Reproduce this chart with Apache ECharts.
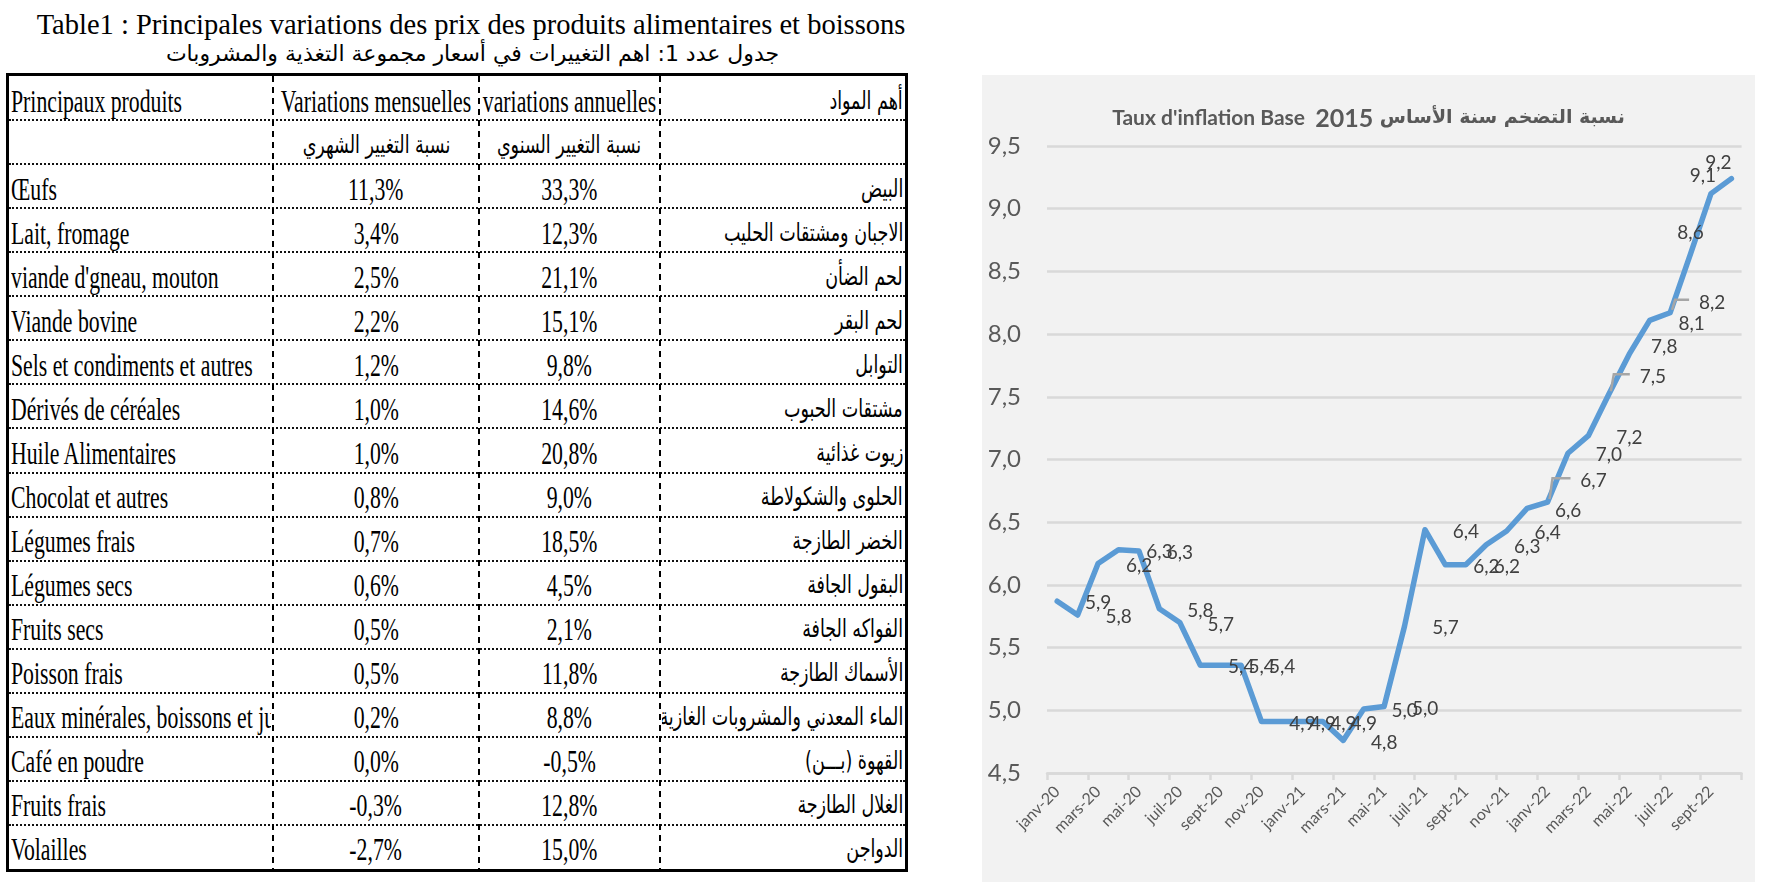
<!DOCTYPE html>
<html><head><meta charset="utf-8">
<script src="https://cdn.jsdelivr.net/npm/echarts@6/dist/echarts.min.js"></script>
<style>
html,body{margin:0;padding:0;background:#fff;width:1768px;height:889px;overflow:hidden;}
#t1{position:absolute;left:0;top:7px;width:942px;text-align:center;font:28.5px 'Liberation Serif';color:#000;line-height:36px;white-space:nowrap}
#t2{position:absolute;left:0;top:38px;width:945px;text-align:center;font:22px 'DejaVu Sans';direction:rtl;line-height:32px;white-space:nowrap}
#tbl{position:absolute;left:6px;top:73px;width:902px;height:799px;border:3px solid #000;box-sizing:border-box;}
.sep{position:absolute;left:0;width:896px;height:0;border-top:2px dotted #111;}
.vsep{position:absolute;top:0;width:2px;height:793px;background:repeating-linear-gradient(to bottom,#000 0 6px,transparent 6px 11px);}
.cell{position:absolute;overflow:hidden;white-space:nowrap;color:#000;display:flex;align-items:center;box-sizing:border-box;padding-top:5px;}
.lat{display:inline-block;flex:none;font:32px 'Liberation Serif';line-height:36px;transform:scaleX(0.68);}
.ar{display:inline-block;flex:none;font:25px 'DejaVu Sans';line-height:36px;direction:rtl;transform:scaleX(0.7);}
#chart{position:absolute;left:982px;top:75px;width:773px;height:807px;}
</style></head>
<body>
<div id="t1">Table1 : Principales variations des prix des produits alimentaires et boissons</div>
<div id="t2">جدول عدد 1: اهم التغييرات في أسعار مجموعة التغذية والمشروبات</div>
<div id="tbl"></div>
<div id="chart"></div>
<script>
// ---------- Table data ----------
const products = ["Œufs","Lait, fromage","viande d'gneau, mouton","Viande bovine","Sels et condiments et autres","Dérivés de céréales","Huile Alimentaires","Chocolat et autres","Légumes frais","Légumes secs","Fruits secs","Poisson frais","Eaux minérales, boissons et jus","Café en poudre","Fruits frais","Volailles"];
const monthlyChange = [11.3,3.4,2.5,2.2,1.2,1.0,1.0,0.8,0.7,0.6,0.5,0.5,0.2,0.0,-0.3,-2.7];
const annualChange = [33.3,12.3,21.1,15.1,9.8,14.6,20.8,9.0,18.5,4.5,2.1,11.8,8.8,-0.5,12.8,15.0];
const productsAr = ["البيض","الاجبان ومشتقات الحليب","لحم الضأن","لحم البقر","التوابل","مشتقات الحبوب","زيوت غذائية","الحلوى والشكولاطة","الخضر الطازجة","البقول الجافة","الفواكه الجافة","الأسماك الطازجة","الماء المعدني والمشروبات الغازية","القهوة (بـــن)","الغلال الطازجة","الدواجن"];
const headerFr = ["Principaux produits","Variations mensuelles","variations annuelles"];
const headerAr = ["أهم المواد","نسبة التغيير الشهري","نسبة التغيير السنوي"];

// ---------- Chart data ----------
const months = ["janv-20","févr-20","mars-20","avr-20","mai-20","juin-20","juil-20","août-20","sept-20","oct-20","nov-20","déc-20",
"janv-21","févr-21","mars-21","avr-21","mai-21","juin-21","juil-21","août-21","sept-21","oct-21","nov-21","déc-21",
"janv-22","févr-22","mars-22","avr-22","mai-22","juin-22","juil-22","août-22","sept-22","oct-22"];
const inflation = [5.87,5.76,6.17,6.28,6.27,5.81,5.70,5.36,5.36,5.36,4.91,4.91,
4.91,4.91,4.76,5.01,5.03,5.67,6.44,6.16,6.16,6.32,6.43,6.61,
6.66,7.05,7.19,7.52,7.84,8.11,8.17,8.64,9.12,9.24];

const fmt = v => v.toFixed(1).replace('.', ',');

// ---------- Build table ----------
const tbl = document.getElementById('tbl');
const rowH = 793/18;
const cols = [[0,264],[264,470],[470,651],[651,896]];
function cell(r, c, html, align){
  const d = document.createElement('div');
  d.className = 'cell';
  d.style.top = (r*rowH) + 'px';
  d.style.left = (cols[c][0]+2) + 'px';
  d.style.width = (cols[c][1]-cols[c][0]-4) + 'px';
  d.style.height = rowH + 'px';
  d.style.justifyContent = align==='left' ? 'flex-start' : (align==='right' ? 'flex-end' : 'center');
  d.innerHTML = html;
  const sp = d.firstChild;
  sp.style.transformOrigin = align==='left' ? 'left center' : (align==='right' ? 'right center' : 'center center');
  tbl.appendChild(d);
}
const lat = t => '<span class="lat">'+t+'</span>';
const ar = t => '<span class="ar">'+t+'</span>';
cell(0,0,lat(headerFr[0]),'left');
cell(0,1,lat(headerFr[1]),'center');
cell(0,2,lat(headerFr[2]),'center');
cell(0,3,ar(headerAr[0]),'right');
cell(1,1,ar(headerAr[1]),'center');
cell(1,2,ar(headerAr[2]),'center');
products.forEach((p,i)=>{
  const r = i+2;
  cell(r,0,lat(p),'left');
  cell(r,1,lat(fmt(monthlyChange[i])+'%'),'center');
  cell(r,2,lat(fmt(annualChange[i])+'%'),'center');
  cell(r,3,ar(productsAr[i]),'right');
});
for (let r=1;r<18;r++){
  const s=document.createElement('div'); s.className='sep'; s.style.top=(r*rowH-1)+'px'; tbl.appendChild(s);
}
[263,469,650].forEach(x=>{const v=document.createElement('div'); v.className='vsep'; v.style.left=x+'px'; tbl.appendChild(v);});

// ---------- Chart ----------
const defaultShift = [41, 2];
const labelShift = {24:[46,-21], 27:[44,-17], 28:[35,-7], 29:[42,4], 30:[42,-10], 31:[0,-21], 32:[-8,-18], 33:[-13,-16]};
const leaders = [24, 27, 30];

const chart = echarts.init(document.getElementById('chart'), null, {renderer:'canvas'});
const option = {
  animation:false,
  backgroundColor:'#F2F2F2',
  title:{
    text:"{a|Taux d'inflation Base  }{b|2015}{c| نسبة التضخم سنة الأساس}",
    left:'center', top:26,
    textStyle:{rich:{
      a:{fontFamily:'Lato',fontWeight:'bold',fontSize:21,color:'#595959'},
      b:{fontFamily:'Lato',fontWeight:'bold',fontSize:25,color:'#595959'},
      c:{fontFamily:'DejaVu Sans',fontWeight:'bold',fontSize:19,color:'#595959'}
    }}
  },
  grid:{left:65, top:71, right:13.4, bottom:109, containLabel:false},
  xAxis:{
    type:'category', data:months, boundaryGap:true,
    axisLine:{lineStyle:{color:'#D9D9D9',width:2.5}},
    axisTick:{show:true, interval:1, length:7, lineStyle:{color:'#D9D9D9',width:2.5}},
    axisLabel:{interval:1, rotate:45, margin:16, fontFamily:'Lato', fontSize:16, color:'#595959'},
    splitLine:{show:false}
  },
  yAxis:{
    type:'value', min:4.5, max:9.5, interval:0.5,
    axisLine:{show:false}, axisTick:{show:false},
    axisLabel:{formatter:v=>fmt(v), fontFamily:'Lato', fontSize:24, color:'#595959', margin:26},
    splitLine:{lineStyle:{color:'#D9D9D9',width:2.5}}
  },
  series:[{
    type:'line',
    data: inflation.map((v,i)=>({value:v, label:{offset: labelShift[i] || defaultShift}})),
    symbol:'circle', symbolSize:2, showSymbol:true, showAllSymbol:true,
    itemStyle:{color:'rgba(0,0,0,0)'},
    lineStyle:{color:'#5B9BD5', width:5.5, join:'round', cap:'round'},
    label:{show:true, position:'inside', formatter:p=>fmt(p.value), fontFamily:'Lato', fontSize:19, color:'#404040'},
    emphasis:{disabled:true},
    z:3
  }]
};
chart.setOption(option);

const leaderGraphics = leaders.map(i=>{
  const [x,y] = chart.convertToPixel({seriesIndex:0},[i, inflation[i]]);
  const s = labelShift[i];
  const ly = y + s[1] - 3;
  return {type:'polyline', shape:{points:[[x+2,y-3],[x+5,ly],[x+s[0]-23,ly]]},
          style:{stroke:'#A6A6A6', lineWidth:2.5, fill:null}, z:10};
});
chart.setOption({graphic:leaderGraphics});
</script>
</body></html>
